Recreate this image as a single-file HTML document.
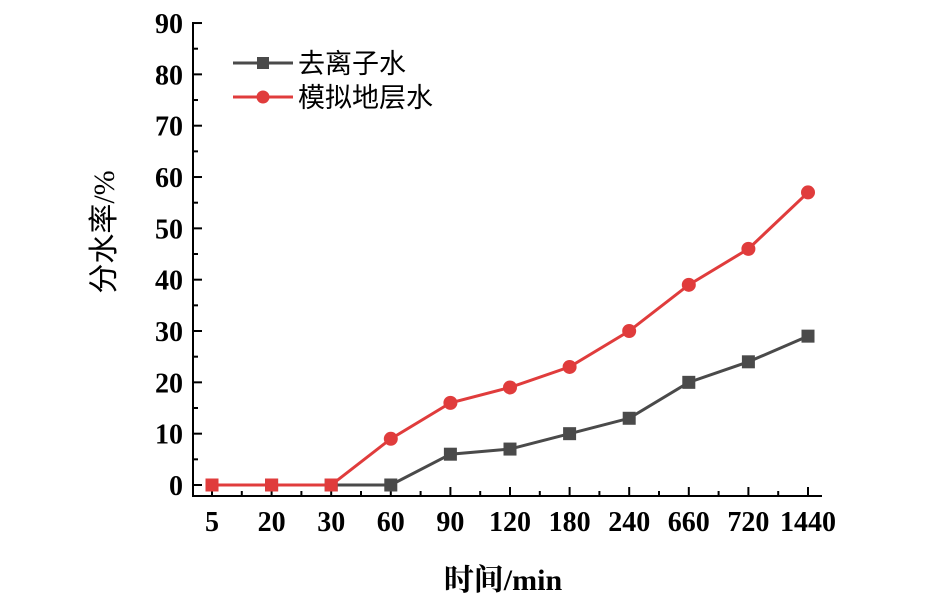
<!DOCTYPE html>
<html><head><meta charset="utf-8"><style>body{margin:0;background:#fff}</style></head><body>
<svg width="947" height="601" xmlns="http://www.w3.org/2000/svg" font-family="Liberation Serif, Noto Serif CJK SC, serif">
<g stroke="#000" stroke-width="2" fill="none">
<line x1="193" y1="22" x2="193" y2="496"/>
<line x1="192" y1="496" x2="822" y2="496"/>
</g>
<g stroke="#000" stroke-width="2" id="yt"></g>
<g font-size="28" font-weight="bold" text-anchor="end" id="yl"></g>
<g font-size="28" font-weight="bold" text-anchor="middle" id="xl"></g>
<g id="series"></g>
<g font-family="Liberation Sans, Noto Sans CJK SC, sans-serif" font-size="27">
<line x1="233" y1="63" x2="293" y2="63" stroke="#4a4a4a" stroke-width="3"/>
<rect x="257" y="57" width="12" height="12" fill="#4a4a4a"/>
<text x="298" y="73">去离子水</text>
<line x1="233" y1="97" x2="293" y2="97" stroke="#e03c3c" stroke-width="3"/>
<circle cx="263" cy="97" r="6.5" fill="#e03c3c"/>
<text x="298" y="107">模拟地层水</text>
</g>
<text transform="translate(114,232) rotate(-90)" font-size="30" text-anchor="middle" font-family="Liberation Serif, Noto Sans CJK SC, serif">分水率/%</text>
<text x="503" y="590" font-size="30" font-weight="bold" text-anchor="middle">时间/min</text>
</svg>
<script>
var ns="http://www.w3.org/2000/svg";
function el(p,t,a,txt){var e=document.createElementNS(ns,t);for(var k in a)e.setAttribute(k,a[k]);if(txt!==undefined)e.textContent=txt;p.appendChild(e);return e;}
var Y=function(v){return 485-v*5.133;};
var yt=document.getElementById('yt'),yl=document.getElementById('yl'),xl=document.getElementById('xl'),s=document.getElementById('series');
for(var v=0;v<=90;v+=5){var y=Y(v);el(yt,'line',{x1:193,y1:y,x2:v%10==0?202:198,y2:y});if(v%10==0)el(yl,'text',{x:183,y:y+10},v);}
var cats=[5,20,30,60,90,120,180,240,660,720,1440];
var X=function(i){return 212+i*59.6;};
for(var i=0;i<11;i++){el(yt,'line',{x1:X(i),y1:496,x2:X(i),y2:487});if(i<10)el(yt,'line',{x1:X(i)+29.8,y1:496,x2:X(i)+29.8,y2:491});el(xl,'text',{x:X(i),y:531},cats[i]);}
var a=[0,0,0,0,6,7,10,13,20,24,29],b=[0,0,0,9,16,19,23,30,39,46,57];
el(s,'polyline',{points:a.map(function(v,i){return X(i)+','+Y(v)}).join(' '),fill:'none',stroke:'#4a4a4a','stroke-width':3});
a.forEach(function(v,i){el(s,'rect',{x:X(i)-6.5,y:Y(v)-6.5,width:13,height:13,fill:'#4a4a4a'});});
el(s,'polyline',{points:b.map(function(v,i){return X(i)+','+Y(v)}).join(' '),fill:'none',stroke:'#e03c3c','stroke-width':3});
b.forEach(function(v,i){if(i<3)el(s,'rect',{x:X(i)-6.5,y:Y(v)-6.5,width:13,height:13,fill:'#e03c3c'});else el(s,'circle',{cx:X(i),cy:Y(v),r:7,fill:'#e03c3c'});});
</script>
</body></html>
